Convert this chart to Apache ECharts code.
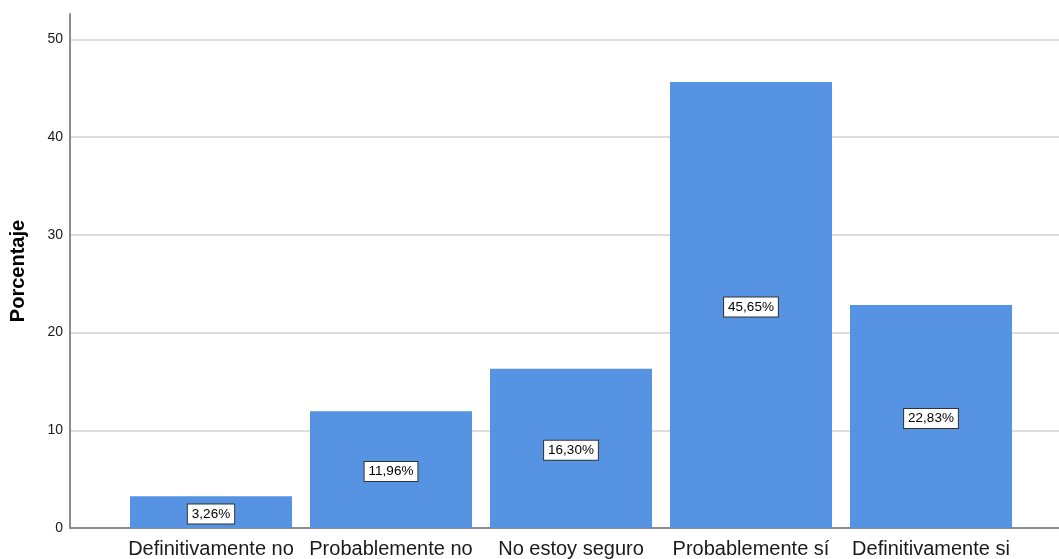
<!DOCTYPE html>
<html>
<head>
<meta charset="utf-8">
<script src="https://cdn.jsdelivr.net/npm/echarts@6/dist/echarts.min.js"></script>
<style>
  html, body { margin: 0; padding: 0; background: #fff; }
  #chart { width: 1059px; height: 559px; }
</style>
</head>
<body>
<div id="chart"></div>
<script>
// Respuestas (porcentaje)
const categories = ['Definitivamente no', 'Probablemente no', 'No estoy seguro', 'Probablemente sí', 'Definitivamente si'];
const percentages = [3.26, 11.96, 16.30, 45.65, 22.83];
const yTicks = [0, 10, 20, 30, 40, 50];

const FONT = '"Liberation Sans", Arial, sans-serif';
const chart = echarts.init(document.getElementById('chart'), null, { renderer: 'canvas' });

const option = {
  animation: false,
  backgroundColor: '#ffffff',
  grid: [
    // 0: gridlines, tick labels, axes
    { left: 70, right: 0, top: 39.5, bottom: 31 },
    // 1: taller grid carrying the extended vertical axis line and its title
    { left: 70, right: 0, top: 14, bottom: 31 },
    // 2: bars, inset from the axis
    { left: 121, right: 38, top: 39.5, bottom: 31 }
  ],
  xAxis: [
    { gridIndex: 0, type: 'category', data: categories,
      axisLine: { show: true, lineStyle: { color: '#8c8c8c', width: 2 } },
      axisTick: { show: false }, axisLabel: { show: false }, splitLine: { show: false } },
    { gridIndex: 1, type: 'category', data: categories, show: false },
    { gridIndex: 2, type: 'category', data: categories,
      axisLine: { show: false }, axisTick: { show: false },
      axisLabel: { color: '#1a1a1a', fontSize: 20, fontFamily: FONT, margin: 11, interval: 0 } }
  ],
  yAxis: [
    { gridIndex: 0, type: 'value', min: yTicks[0], max: yTicks[yTicks.length - 1], interval: 10,
      axisLine: { show: false },
      axisTick: { show: false },
      axisLabel: { color: '#1a1a1a', fontSize: 14, fontFamily: FONT, margin: 7 },
      splitLine: { show: true, lineStyle: { color: '#d2d2d2', width: 1.5 } } },
    { gridIndex: 1, type: 'value', min: 0, max: 52.66,
      name: 'Porcentaje', nameLocation: 'middle', nameGap: 42, nameRotate: 90,
      nameTextStyle: { color: '#000', fontSize: 20, fontWeight: 'bold', fontFamily: FONT },
      axisLine: { show: true, lineStyle: { color: '#8c8c8c', width: 2 } },
      axisTick: { show: false }, axisLabel: { show: false }, splitLine: { show: false } },
    { gridIndex: 2, type: 'value', min: yTicks[0], max: yTicks[yTicks.length - 1], show: false,
      splitLine: { show: false } }
  ],
  series: [
    {
      type: 'bar',
      xAxisIndex: 2, yAxisIndex: 2,
      data: percentages,
      barCategoryGap: '10%',
      itemStyle: { color: '#5694e3' },
      label: {
        show: true,
        position: 'inside',
        offset: [0, 2],
        formatter: p => p.value.toFixed(2).replace('.', ',') + '%',
        color: '#000',
        fontSize: 13.5,
        fontFamily: FONT,
        backgroundColor: '#ffffff',
        borderColor: '#333333',
        borderWidth: 1,
        padding: [3, 4, 2, 4]
      }
    }
  ]
};

chart.setOption(option);
</script>
</body>
</html>
